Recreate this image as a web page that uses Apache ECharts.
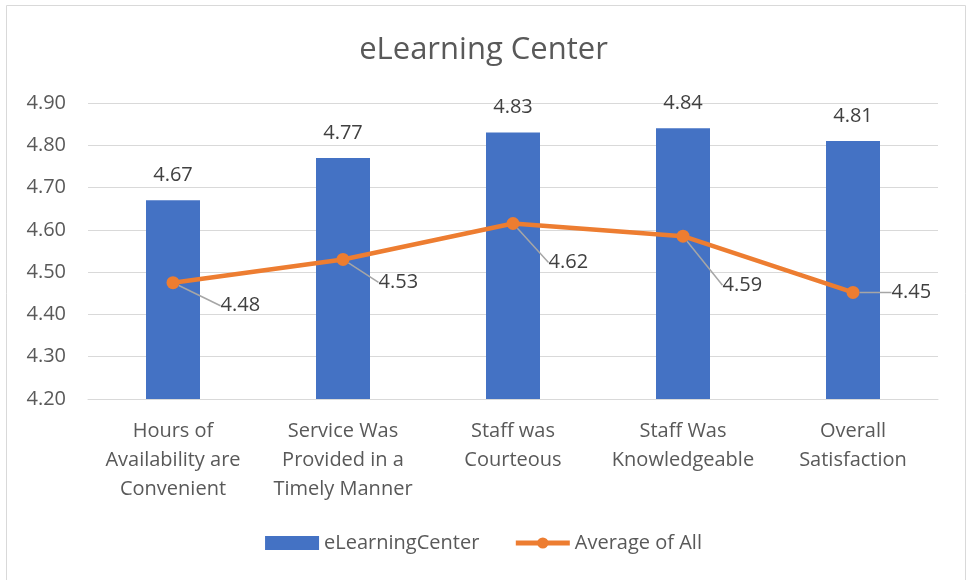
<!DOCTYPE html>
<html>
<head>
<meta charset="utf-8">
<title>eLearning Center</title>
<script src="https://cdn.jsdelivr.net/npm/echarts@6/dist/echarts.min.js"></script>
<style>
  html, body { margin: 0; padding: 0; background: #fff; }
  #chart { width: 967px; height: 580px; }
</style>
</head>
<body>
<div id="chart"></div>
<script>
  var categories = [
    "Hours of\nAvailability are\nConvenient",
    "Service Was\nProvided in a\nTimely Manner",
    "Staff was\nCourteous",
    "Staff Was\nKnowledgeable",
    "Overall\nSatisfaction"
  ];
  var centerScores = [4.67, 4.77, 4.83, 4.84, 4.81];
  var averageScores = [4.475, 4.53, 4.615, 4.585, 4.452];
  var yTicks = [4.2, 4.3, 4.4, 4.5, 4.6, 4.7, 4.8, 4.9];

  // offset of each "Average of All" label from its point (Excel-style moved labels)
  var labelShift = [[31, 23], [19, 23], [19, 39], [23, 49], [22, 0]];

  var font = "'Open Sans', sans-serif";
  var myChart = echarts.init(document.getElementById("chart"));

  function two(v) {
    return (Math.round(v * 100 + 1e-6) / 100).toFixed(2);
  }

  myChart.setOption({
    animation: false,
    textStyle: { fontFamily: font },
    graphic: [{
      type: "rect",
      shape: { x: 6.5, y: 5.5, width: 959, height: 580 },
      style: { fill: "none", stroke: "#d9d9d9", lineWidth: 1 },
      silent: true
    }],
    title: {
      text: "eLearning Center",
      left: "center",
      top: 30,
      textStyle: { fontFamily: font, fontSize: 31, fontWeight: "normal", color: "#595959" }
    },
    grid: { left: 88, right: 29, top: 103, bottom: 181 },
    legend: {
      bottom: 22,
      left: "center",
      itemGap: 34,
      itemWidth: 54,
      itemHeight: 14,
      textStyle: { fontFamily: font, fontSize: 20, color: "#595959" },
      data: [
        { name: "eLearningCenter", icon: "rect" },
        { name: "Average of All", lineStyle: { width: 5 } }
      ]
    },
    xAxis: {
      type: "category",
      data: categories,
      axisTick: { show: false },
      axisLine: { lineStyle: { color: "#d9d9d9", width: 1 } },
      axisLabel: {
        interval: 0,
        margin: 18,
        fontSize: 20,
        lineHeight: 29,
        color: "#595959",
        fontFamily: font
      }
    },
    yAxis: {
      type: "value",
      min: yTicks[0],
      max: yTicks[yTicks.length - 1],
      interval: 0.1,
      axisLine: { show: false },
      axisTick: { show: false },
      splitLine: { lineStyle: { color: "#d9d9d9", width: 1 } },
      axisLabel: {
        margin: 22,
        fontSize: 20,
        color: "#595959",
        fontFamily: font,
        formatter: function (v) { return v.toFixed(2); }
      }
    },
    series: [
      {
        name: "eLearningCenter",
        type: "bar",
        data: centerScores,
        barWidth: 54,
        itemStyle: { color: "#4472c4" },
        label: {
          show: true,
          position: "top",
          distance: 15,
          fontSize: 20,
          color: "#404040",
          fontFamily: font,
          formatter: function (p) { return two(p.value); }
        }
      },
      {
        name: "Average of All",
        type: "line",
        data: averageScores,
        symbol: "circle",
        symbolSize: 13,
        lineStyle: { color: "#ed7d31", width: 4.5 },
        itemStyle: { color: "#ed7d31" },
        label: {
          show: true,
          position: "right",
          distance: 0,
          padding: [0, 0, 0, 10],
          fontSize: 20,
          color: "#404040",
          fontFamily: font,
          formatter: function (p) { return two(p.value); }
        },
        labelLine: {
          show: true,
          length2: 0,
          lineStyle: { color: "#a6a6a6", width: 1.5 }
        },
        labelLayout: function (p) {
          var s = labelShift[p.dataIndex];
          return { dx: s[0], dy: s[1] };
        },
        z: 3
      }
    ]
  });
</script>
</body>
</html>
